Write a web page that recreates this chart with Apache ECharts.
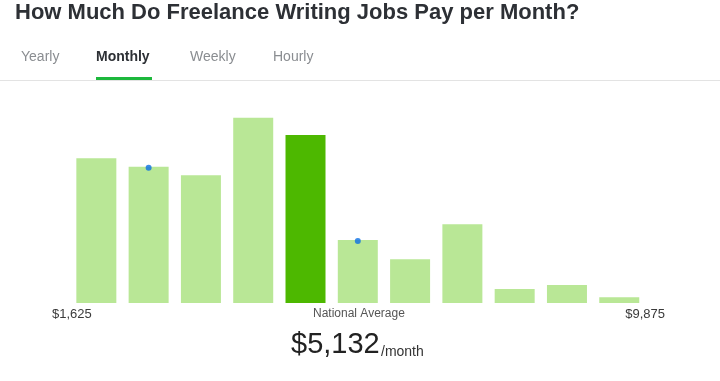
<!DOCTYPE html>
<html><head><meta charset="utf-8">
<script src="https://cdn.jsdelivr.net/npm/echarts@6/dist/echarts.min.js"></script>
<style>html,body{margin:0;padding:0;background:#fff}#c{width:720px;height:381px}</style>
</head><body><div id="c"></div>
<script>
var categories = ['b1','b2','b3','b4','b5','b6','b7','b8','b9','b10','b11'];
var barValues = [144.7, 136.3, 127.7, 185.3, 168, 63, 43.7, 78.7, 14, 18, 5.7];
var highlightIndex = 4;
var dotValues = [null, 135.3, null, null, null, 62, null, null, null, null, null];
var tabs = ['Yearly', 'Monthly', 'Weekly', 'Hourly'];
var rangeLabels = ['$1,625', '$9,875'];
var avgLabel = 'National Average';
var avgValue = '$5,132';
var avgUnit = '/month';
var titleText = 'How Much Do Freelance Writing Jobs Pay per Month?';

var FONT = '"Liberation Sans", Arial, Helvetica, sans-serif';
var chart = echarts.init(document.getElementById('c'));
var tabX = [21, 96, 190, 273];
var graphics = [
  {type:'text', left:15, top:2, style:{text:titleText, font:'bold 22px ' + FONT, fill:'#2d3035'}},
  {type:'rect', shape:{x:0, y:80, width:720, height:1}, style:{fill:'#e3e3e3'}},
  {type:'rect', shape:{x:96, y:77, width:56, height:3}, style:{fill:'#1db83c'}}
];
tabs.forEach(function(t, i){
  graphics.push({type:'text', left:tabX[i], top:50, style:{text:t, font:(i===1?'bold ':'') + '14px ' + FONT, fill:i===1?'#2d3035':'#8a8d91'}});
});
graphics.push({type:'text', left:52, top:308, style:{text:rangeLabels[0], font:'13px ' + FONT, fill:'#3a3a3a'}});
graphics.push({type:'text', right:55, top:308, style:{text:rangeLabels[1], font:'13px ' + FONT, fill:'#3a3a3a'}});
graphics.push({type:'text', left:313, top:308, style:{text:avgLabel, font:'12px ' + FONT, fill:'#555'}});
graphics.push({type:'text', left:291, top:330, style:{text:avgValue, font:'29px ' + FONT, fill:'#222'}});
graphics.push({type:'text', left:381, top:345, style:{text:avgUnit, font:'14px ' + FONT, fill:'#333'}});

chart.setOption({
  animation:false,
  grid:{left:70.2, right:74.6, top:103, height:200},
  xAxis:{type:'category', data:categories, show:false},
  yAxis:{type:'value', min:0, max:200, show:false},
  series:[
    {type:'bar', data:barValues.map(function(v, i){
      return {value:v, itemStyle:{color: i===highlightIndex ? '#4db800' : '#b9e796'}};
    }), barWidth:40, silent:true},
    {type:'scatter', data:dotValues, symbolSize:6, itemStyle:{color:'#0b6fe3'}, silent:true, z:5}
  ],
  graphic:graphics
});
</script></body></html>
